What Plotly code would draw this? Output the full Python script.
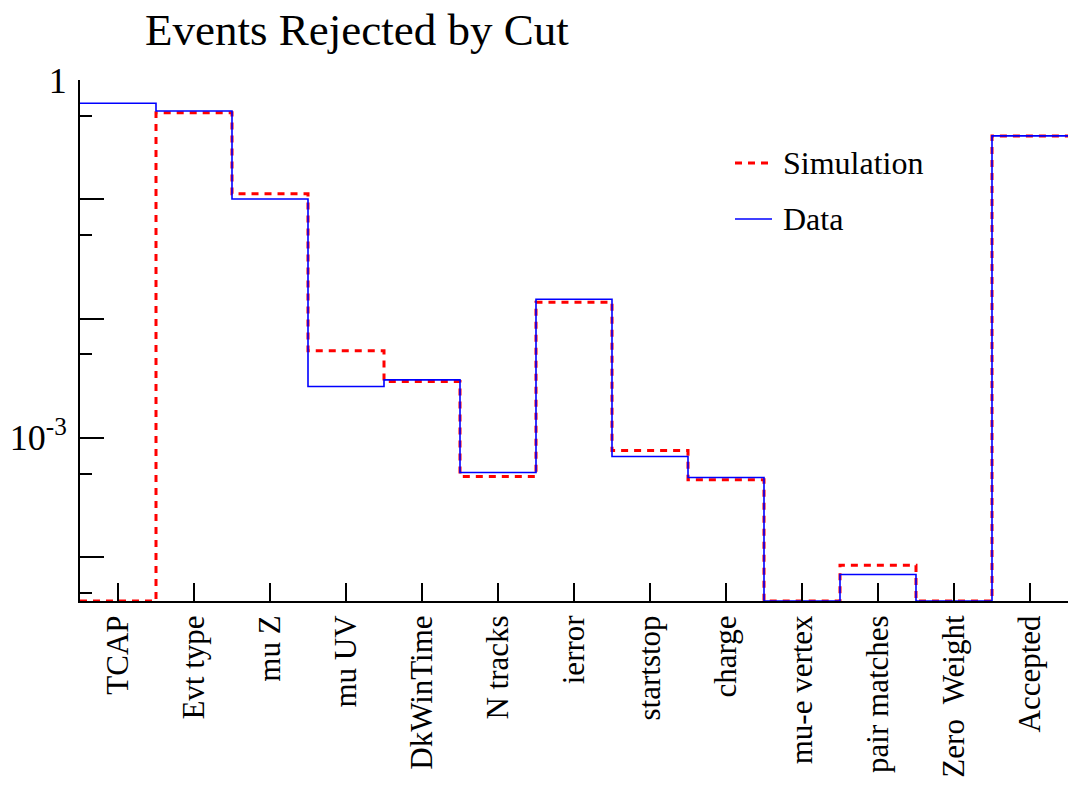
import numpy as np
import plotly.graph_objects as go

# Cut categories (one histogram bin each)
cuts = ["TCAP", "Evt type", "mu Z", "mu UV", "DkWinTime", "N tracks", "ierror",
        "startstop", "charge", "mu-e vertex", "pair matches", "Zero  Weight", "Accepted"]

# Fraction of events rejected at each cut
simulation = [0.0, 0.532, 0.111, 0.00538, 0.00296, 4.73e-4, 0.0137,
              7.81e-4, 4.44e-4, 0.0, 8.55e-5, 0.0, 0.340]
data = [0.638, 0.550, 0.1006, 0.00269, 0.00306, 5.11e-4, 0.0145,
        6.96e-4, 4.64e-4, 0.0, 7.13e-5, 0.0, 0.340]

# Labelled and unlabelled decade ticks, plus half-decade ticks
labelled_ticks = [1e-3, 1.0]
labelled_text = ["10<sup>-3</sup>", "1"]
plain_ticks = [1e-4, 1e-2, 1e-1]
half_ticks = [5e-5, 5e-4, 5e-3, 5e-2, 5e-1]

y_min = 4.28e-5
y_max = 1.0
FONT = "Liberation Serif, Times New Roman, serif"


def step_points(values):
    """Histogram outline: bin edges on x, empty bins drawn on the axis floor."""
    v = np.asarray(values, dtype=float)
    v = np.where(v > 0, v, y_min)
    x = np.arange(len(v) + 1)
    y = np.append(v, v[-1])
    return x, y


fig = go.Figure()

xs, ys = step_points(simulation)
fig.add_trace(go.Scatter(x=xs, y=ys, mode="lines", line_shape="hv", name="Simulation",
                         line=dict(color="#ff0000", width=3, dash="7px,6px"),
                         cliponaxis=False, showlegend=False))
xd, yd = step_points(data)
fig.add_trace(go.Scatter(x=xd, y=yd, mode="lines", line_shape="hv", name="Data",
                         line=dict(color="#0000ff", width=1.6),
                         cliponaxis=False, showlegend=False))
# empty trace that keeps the overlay axis alive
fig.add_trace(go.Scatter(x=[None], y=[None], yaxis="y2", showlegend=False,
                         hoverinfo="skip"))

n = len(cuts)
log_range = [np.log10(y_min), np.log10(y_max)]

fig.update_layout(
    width=1068, height=789,
    margin=dict(l=80, r=0, t=80, b=188),
    paper_bgcolor="white", plot_bgcolor="white",
    font=dict(family=FONT, color="black", size=31),
    title=dict(text="Events Rejected by Cut", font=dict(size=45, family=FONT),
               xref="container", x=145 / 1068, xanchor="left",
               yref="container", y=1 - 29 / 789, yanchor="middle"),
    xaxis=dict(range=[0, n], tickvals=[i + 0.5 for i in range(n)], ticktext=cuts,
               tickangle=-90, ticks="inside", ticklen=18, tickwidth=1.5, tickcolor="black",
               showline=True, linecolor="black", linewidth=2, showgrid=False,
               zeroline=False, tickfont=dict(size=31, family=FONT)),
    yaxis=dict(type="log", range=log_range,
               tickvals=labelled_ticks, ticktext=labelled_text, ticks="inside", ticklen=24,
               tickwidth=1.5, tickcolor="black", ticklabelstandoff=4,
               showline=True, linecolor="black", linewidth=2, showgrid=False,
               zeroline=False, tickfont=dict(size=36, family=FONT)),
    yaxis2=dict(type="log", range=log_range, overlaying="y", side="left",
                tickvals=plain_ticks, ticks="inside", ticklen=24, tickwidth=1.5,
                tickcolor="black", showticklabels=False,
                minor=dict(tickvals=half_ticks, ticks="inside", ticklen=12, tickwidth=1.5,
                           tickcolor="black", showgrid=False),
                showline=False, showgrid=False, zeroline=False),
)

# Legend drawn as line samples plus labels
legend_items = [("Simulation", "#ff0000", 3, "7px,6px", 163),
                ("Data", "#0000ff", 1.6, "solid", 219)]
for label, color, width, dash, ypix in legend_items:
    yp = 1 - (ypix - 80) / (601 - 80)
    fig.add_shape(type="line", xref="paper", yref="paper",
                  x0=(735 - 80) / 988, x1=(772 - 80) / 988, y0=yp, y1=yp,
                  line=dict(color=color, width=width, dash=dash))
    fig.add_annotation(text=label, xref="paper", yref="paper",
                       x=(781 - 80) / 988, y=yp, xanchor="left", yanchor="middle",
                       showarrow=False, font=dict(size=32, family=FONT, color="black"))

fig.write_html("out.html")
